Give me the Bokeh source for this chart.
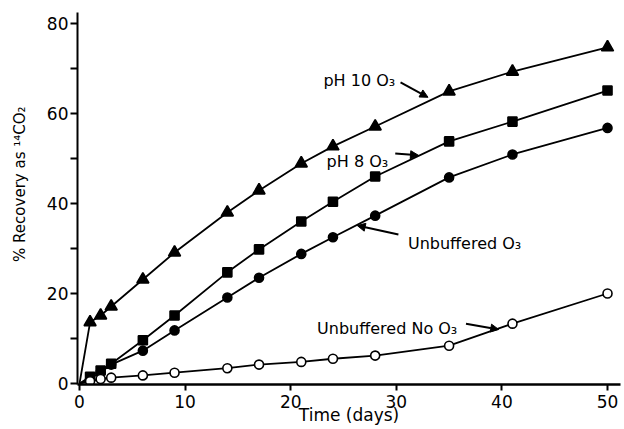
from bokeh.plotting import figure
from bokeh.models import Range1d, FixedTicker, Label, Arrow, NormalHead
from bokeh.embed import file_html
from bokeh.resources import INLINE

# ---- data ----
days = [1, 2, 3, 6, 9, 14, 17, 21, 24, 28, 35, 41, 50]
ph10_o3 = [13.6, 15.1, 17.1, 23.1, 29.1, 38.0, 42.9, 48.9, 52.7, 57.1, 64.9, 69.3, 74.7]
ph8_o3 = [1.5, 2.9, 4.4, 9.6, 15.1, 24.7, 29.8, 36.0, 40.4, 46.0, 53.8, 58.2, 65.1]
unbuffered_o3 = [1.0, 2.5, 4.2, 7.3, 11.8, 19.1, 23.5, 28.8, 32.5, 37.3, 45.8, 50.9, 56.8]
unbuffered_no_o3 = [0.5, 1.0, 1.3, 1.8, 2.4, 3.4, 4.2, 4.8, 5.5, 6.2, 8.4, 13.3, 20.0]
start_day = [0]
start_value = [0]

x_ticks = [0, 10, 20, 30, 40, 50]
y_ticks = [0, 20, 40, 60, 80]
y_minor = [10, 30, 50, 70]

FONT = "DejaVu Sans"

p = figure(width=622, height=428, output_backend="svg", toolbar_location=None,
           x_range=Range1d(-0.19, 51.23), y_range=Range1d(-0.22, 82.44),
           min_border_left=77, min_border_right=2, min_border_top=12, min_border_bottom=44)
p.outline_line_color = None
p.grid.visible = False
p.background_fill_color = "white"
p.border_fill_color = "white"

# axes
p.xaxis.ticker = FixedTicker(ticks=x_ticks)
p.yaxis.ticker = FixedTicker(ticks=y_ticks, minor_ticks=y_minor)
for ax in (p.xaxis, p.yaxis):
    ax.axis_line_color = "black"
    ax.major_tick_line_color = "black"
    ax.major_tick_line_width = 2
    ax.major_tick_in = 0
    ax.major_label_text_font = FONT
    ax.major_label_text_font_size = "17px"
    ax.major_label_text_color = "black"
    ax.axis_label_text_font = FONT
    ax.axis_label_text_font_style = "normal"
    ax.axis_label_text_color = "black"
p.xaxis.axis_line_width = 2.5
p.yaxis.axis_line_width = 2
p.xaxis.major_tick_out = 6
p.xaxis.minor_tick_line_color = None
p.xaxis.major_label_standoff = 4
p.xaxis.axis_label = "Time (days)"
p.xaxis.axis_label_text_font_size = "17px"
p.xaxis.axis_label_standoff = -6
p.yaxis.major_tick_out = 7
p.yaxis.minor_tick_out = 7
p.yaxis.minor_tick_in = 0
p.yaxis.minor_tick_line_color = "black"
p.yaxis.minor_tick_line_width = 2
p.yaxis.major_label_standoff = 2
# leading no-break spaces shift the visible (rotated) label upward, as in the reference
p.yaxis.axis_label = "\u00a0" * 6 + "% Recovery as \u00b9\u2074CO\u2082"
p.yaxis.axis_label_text_font_size = "15px"
p.yaxis.axis_label_standoff = 15

# curves (start at origin)
series = [
    (ph10_o3, "triangle", 12, "black"),
    (ph8_o3, "square", 9, "black"),
    (unbuffered_o3, "circle", 9, "black"),
    (unbuffered_no_o3, "circle", 9, "white"),
]
for vals, marker, size, fill in series:
    p.line(start_day + days, start_value + vals, line_color="black", line_width=1.8)
for vals, marker, size, fill in series:
    p.scatter(days, vals, marker=marker, size=size, fill_color=fill,
              line_color="black", line_width=1.6)

# annotations: text position (data units) and arrow start/end
notes = [
    ("pH 10 O\u2083", 23.1, 67.3, (30.4, 66.9), (33.0, 63.6)),
    ("pH 8 O\u2083", 23.4, 49.3, (29.9, 51.1), (32.1, 50.7)),
    ("Unbuffered O\u2083", 31.1, 31.1, (30.2, 33.1), (26.3, 35.1)),
    ("Unbuffered No O\u2083", 22.5, 12.2, (36.6, 13.3), (39.7, 12.0)),
]
for text, tx, ty, a0, a1 in notes:
    p.add_layout(Label(x=tx, y=ty, text=text, text_font=FONT, text_font_size="16px",
                       text_color="black", text_baseline="alphabetic"))
    p.add_layout(Arrow(end=NormalHead(size=8, fill_color="black", line_color="black"),
                       x_start=a0[0], y_start=a0[1], x_end=a1[0], y_end=a1[1],
                       line_color="black", line_width=2))

open("out.html", "w").write(file_html(p, INLINE))
